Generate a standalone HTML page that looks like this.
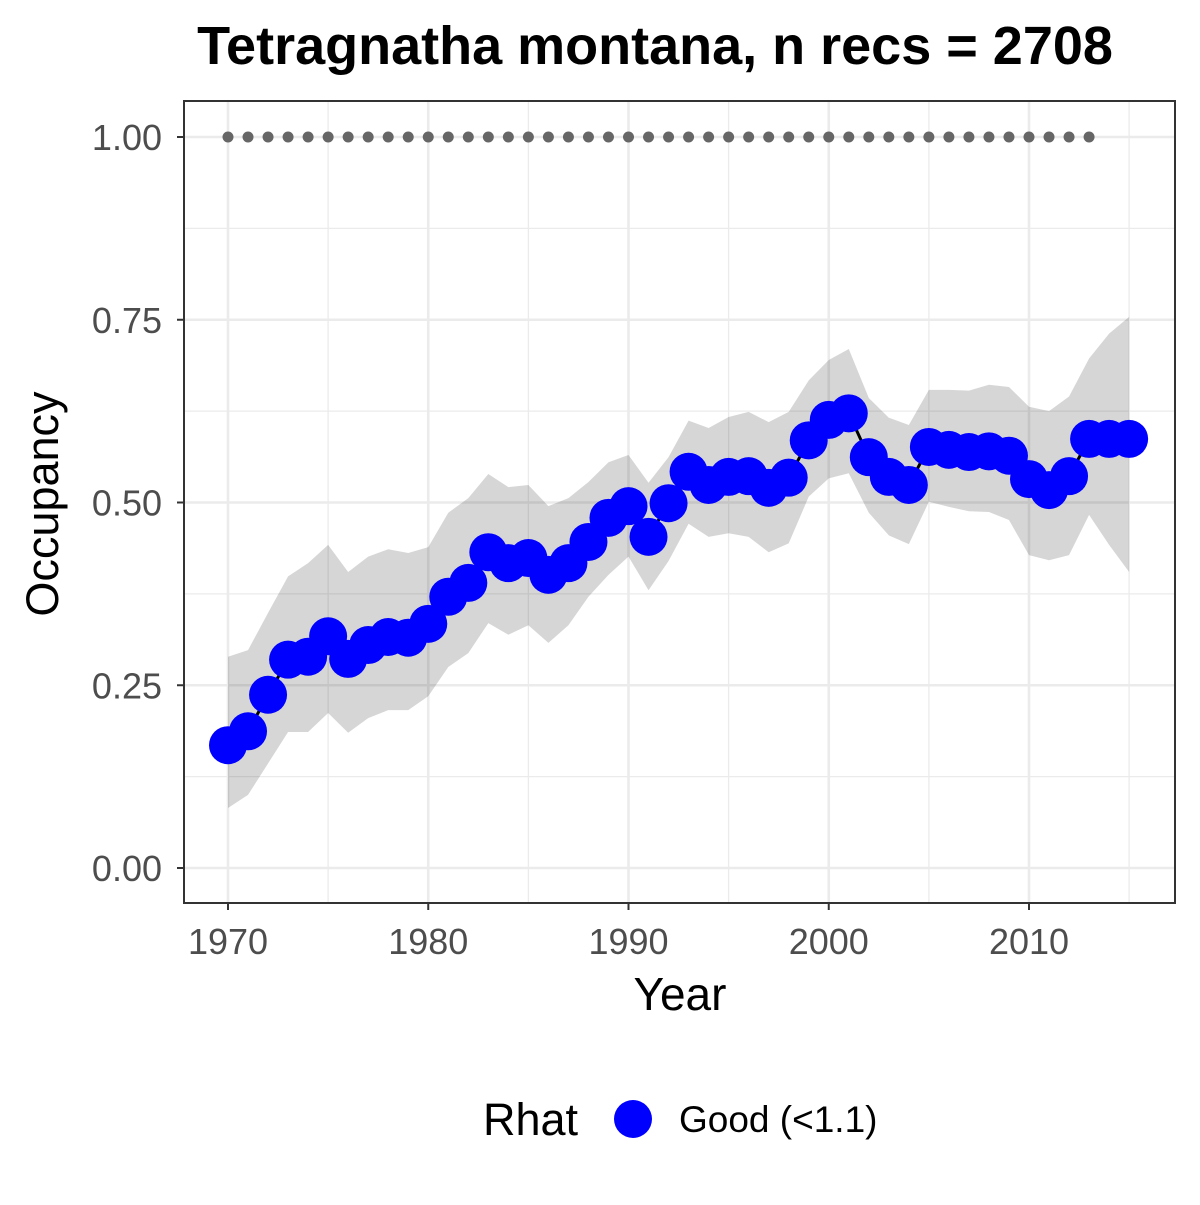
<!DOCTYPE html>
<html><head><meta charset="utf-8"><style>
body{margin:0;background:#fff;}
svg text{font-family:"Liberation Sans",Arial,sans-serif;}
</style></head><body>
<svg id="chart" width="1200" height="1200" viewBox="0 0 1200 1200" xmlns="http://www.w3.org/2000/svg">
<rect x="0" y="0" width="1200" height="1200" fill="#fff"/>
<text x="655" y="64" text-anchor="middle" font-size="54" font-weight="bold" fill="#000">Tetragnatha montana, n recs = 2708</text>
<g id="grid"></g>
<g id="ribbon"></g>
<g id="refline"></g>
<g id="series"></g>
<rect x="184" y="101" width="991" height="802" fill="none" stroke="#333" stroke-width="2"/>
<g id="axes"></g>
<text x="680" y="1010" text-anchor="middle" font-size="46" fill="#000">Year</text>
<text transform="translate(58,504) rotate(-90)" text-anchor="middle" font-size="45" fill="#000">Occupancy</text>
<g>
<text x="483" y="1135" font-size="45" fill="#000">Rhat</text>
<circle cx="633" cy="1119" r="19" fill="#0000ff"/>
<text x="679" y="1132" font-size="37" fill="#000">Good (&lt;1.1)</text>
</g>
</svg>
<script>
const years=[1970,1971,1972,1973,1974,1975,1976,1977,1978,1979,1980,1981,1982,1983,1984,1985,1986,1987,1988,1989,1990,1991,1992,1993,1994,1995,1996,1997,1998,1999,2000,2001,2002,2003,2004,2005,2006,2007,2008,2009,2010,2011,2012,2013,2014,2015];
const occupancy=[0.168,0.187,0.237,0.285,0.289,0.317,0.286,0.305,0.316,0.315,0.334,0.371,0.390,0.432,0.417,0.424,0.401,0.417,0.446,0.479,0.495,0.453,0.499,0.542,0.524,0.535,0.536,0.520,0.534,0.585,0.613,0.622,0.562,0.535,0.524,0.576,0.572,0.569,0.570,0.564,0.532,0.517,0.536,0.587,0.587,0.587];
const upper=[0.289,0.298,0.349,0.399,0.417,0.442,0.405,0.426,0.436,0.431,0.439,0.486,0.506,0.539,0.521,0.524,0.495,0.506,0.528,0.555,0.565,0.527,0.562,0.612,0.602,0.617,0.624,0.610,0.624,0.667,0.695,0.710,0.643,0.616,0.606,0.654,0.654,0.653,0.661,0.658,0.631,0.625,0.645,0.697,0.731,0.754];
const lower=[0.082,0.100,0.143,0.186,0.186,0.212,0.185,0.205,0.216,0.216,0.235,0.275,0.294,0.335,0.319,0.332,0.308,0.332,0.371,0.401,0.426,0.380,0.420,0.471,0.453,0.458,0.453,0.432,0.444,0.508,0.533,0.540,0.486,0.455,0.443,0.501,0.494,0.488,0.487,0.476,0.428,0.421,0.428,0.483,0.442,0.405];
const refYears=[1970,1971,1972,1973,1974,1975,1976,1977,1978,1979,1980,1981,1982,1983,1984,1985,1986,1987,1988,1989,1990,1991,1992,1993,1994,1995,1996,1997,1998,1999,2000,2001,2002,2003,2004,2005,2006,2007,2008,2009,2010,2011,2012,2013];
const refValue=1.0;
const xTicks=[1970,1980,1990,2000,2010];
const xMinor=[1975,1985,1995,2005,2015];
const yTicks=[0,0.25,0.5,0.75,1.0];
const yTickLabels=["0.00","0.25","0.50","0.75","1.00"];
const yMinor=[0.125,0.375,0.625,0.875];

const NS="http://www.w3.org/2000/svg";
const X=v=>228+(v-1970)*20.025;
const Y=v=>868-v*731;
function mk(tag,attrs,parent){const e=document.createElementNS(NS,tag);for(const k in attrs)e.setAttribute(k,attrs[k]);parent.appendChild(e);return e;}
const grid=document.getElementById('grid');
yMinor.forEach(v=>{const l=mk('line',{x1:184,x2:1175,y1:Y(v),y2:Y(v),stroke:'#ebebeb','stroke-width':1.3},grid);

});
xMinor.forEach(v=>{const l=mk('line',{x1:X(v),x2:X(v),y1:101,y2:903,stroke:'#ebebeb','stroke-width':1.3},grid);

});
yTicks.forEach(v=>{const l=mk('line',{x1:184,x2:1175,y1:Y(v),y2:Y(v),stroke:'#ebebeb','stroke-width':2.6},grid);

});
xTicks.forEach(v=>{const l=mk('line',{x1:X(v),x2:X(v),y1:101,y2:903,stroke:'#ebebeb','stroke-width':2.6},grid);

});

let pts=years.map((y,i)=>X(y)+','+Y(upper[i]));
for(let i=years.length-1;i>=0;i--)pts.push(X(years[i])+','+Y(lower[i]));
const rib=mk('polygon',{points:pts.join(' '),fill:'#000','fill-opacity':0.16},document.getElementById('ribbon'));



const ref=document.getElementById('refline');
refYears.forEach(y=>{const c=mk('circle',{cx:X(y),cy:Y(refValue),r:5.5,fill:'#666'},ref);

});

const ser=document.getElementById('series');
const line=mk('polyline',{points:years.map((y,i)=>X(y)+','+Y(occupancy[i])).join(' '),fill:'none',stroke:'#000','stroke-width':3},ser);


years.forEach((y,i)=>{const c=mk('circle',{cx:X(y),cy:Y(occupancy[i]),r:19,fill:'#0000ff'},ser);

});

const ax=document.getElementById('axes');
yTicks.forEach((v,i)=>{
const t=mk('line',{x1:177,x2:184,y1:Y(v),y2:Y(v),stroke:'#333','stroke-width':2},ax);


const tx=mk('text',{x:162,y:Y(v)+13,'text-anchor':'end','font-size':36,fill:'#4d4d4d'},ax);
tx.textContent=yTickLabels[i];

});
xTicks.forEach(v=>{
const t=mk('line',{x1:X(v),x2:X(v),y1:903,y2:910,stroke:'#333','stroke-width':2},ax);


const tx=mk('text',{x:X(v),y:954,'text-anchor':'middle','font-size':36,fill:'#4d4d4d'},ax);
tx.textContent=v;

});
</script>
</body></html>
